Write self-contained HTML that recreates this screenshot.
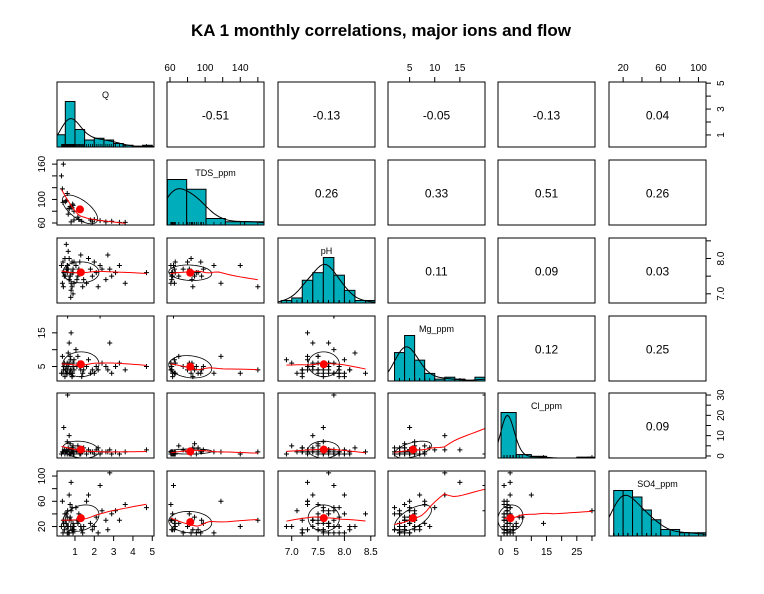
<!DOCTYPE html>
<html><head><meta charset="utf-8">
<style>
html,body{margin:0;padding:0;background:#fff;}
svg{display:block;font-family:"Liberation Sans",Arial,sans-serif;}
</style></head>
<body>
<svg id="chart" width="764" height="594" viewBox="0 0 764 594" xmlns="http://www.w3.org/2000/svg">
<rect width="764" height="594" fill="#fff"/>
<text x="381" y="36" text-anchor="middle" font-size="17" font-weight="bold">KA 1 monthly correlations, major ions and flow</text>
</svg>
<script>
// ---- data ----
const varNames = ["Q","TDS_ppm","pH","Mg_ppm","Cl_ppm","SO4_ppm"];
const corrValues = [[null,-0.51,-0.13,-0.05,-0.13,0.04],[null,null,0.26,0.33,0.51,0.26],[null,null,null,0.11,0.09,0.03],[null,null,null,null,0.12,0.25],[null,null,null,null,null,0.09]];
const qVals   = [0.4,0.3,0.45,0.35,0.48,0.42,0.38,0.6,0.7,0.8,0.9,0.65,0.75,0.85,0.95,0.55,0.6,0.7,0.8,0.9,0.55,0.65,0.75,0.85,0.95,0.6,0.7,0.8,0.9,0.5,0.62,0.78,0.88,1.1,1.2,1.3,1.15,1.4,1.25,1.35,1.05,1.45,1.2,1.6,1.8,1.7,1.9,2.1,2.3,2.2,2.4,2.0,2.6,2.8,2.7,2.9,3.1,3.3,3.6,4.7];
const tdsVals = [160,140,null,118,null,null,95,null,85,null,90,null,88,null,65,98,110,null,62,null,null,75,null,86,80,null,84,null,null,96,null,null,92,null,82,null,70,null,null,63,null,null,66,null,65,null,62,null,64,null,null,66,62,null,null,63,null,61,61,null];
const phVals  = [7.2,7.8,7.5,7.3,8.0,7.6,7.9,7.7,7.4,7.1,7.6,8.2,7.5,7.9,7.3,7.7,7.8,7.4,7.6,7.0,8.4,7.7,7.5,7.2,7.9,7.6,8.0,7.3,7.7,7.5,7.8,6.9,7.6,7.4,7.7,8.1,7.5,7.2,7.9,7.6,7.8,7.4,7.6,7.3,7.7,8.0,7.5,7.6,7.8,7.2,7.7,7.9,7.4,7.7,8.1,7.5,7.6,7.8,7.3,7.6];
const mgVals  = [4,3,6,8,2,5,3,4,6,3,5,9,4,2,7,5,3,12,4,6,3,5,8,2,4,6,3,15,5,4,20,7,3,5,6,4,8,3,5,2,10,4,6,5,3,7,4,5,20,4,6,3,5,12,4,3,5,6,4,5];
const clVals  = [2,1,3,2,1,14,2,1,3,2,1,4,6,2,1,3,2,10,1,5,2,3,1,4,2,7,1,3,2,2,30,1,4,2,3,1,5,2,1,2,3,4,2,1,2,3,2,3,1,4,2,1,2,3,2,1,2,1,2,3];
const so4Vals = [30,20,15,60,40,25,10,20,30,45,10,20,35,50,15,25,10,70,30,20,40,10,55,15,20,35,10,90,25,30,45,20,15,30,40,20,25,10,35,15,50,20,30,60,25,70,15,35,85,10,45,20,30,105,15,40,45,30,55,50];
const allVars = [qVals,tdsVals,phVals,mgVals,clVals,so4Vals];
const ranges = [[0.07,5.09],[56.6,167],[6.74,8.58],[0.7,20],[-1,31],[5,108]];
const histBreaks = [[0,0.5,1,1.5,2,2.5,3,3.5,4,4.5,5,5.5],[57,79,101,123,145,167],[6.8,7.0,7.2,7.4,7.6,7.8,8.0,8.2,8.4,8.6],[0,2,4,6,8,10,12,14,16,18,20],[0,5,10,15,20,25,30],[0,10,20,30,40,50,60,70,80,90,100,110]];
const tickVals = [[1,2,3,4,5],[60,80,100,120,140,160],[7.0,7.5,8.0,8.5],[5,10,15],[0,5,10,15,20,25,30],[20,40,60,80,100]];
const tickLabelsA = [["1","2","3","4","5"],["60","","100","","140",""],["7.0","7.5","8.0","8.5"],["5","10","15"],["0","5","","15","","25",""],["20","","60","","100"]];
const tickLabelsB = [["1","","3","","5"],["60","","100","","","160"],["7.0","","8.0",""],["5","","15"],["0","","10","","20","","30"],["20","","60","","100"]];

// ---- layout ----
const colX=[57,167,278,388,498,609], rowY=[82,160,238,316,393,471], PW=97, PH=65;
const svg=document.getElementById('chart'), NS="http://www.w3.org/2000/svg";
function mk(tag,attrs,parent){const e=document.createElementNS(NS,tag);for(const k in attrs)e.setAttribute(k,attrs[k]);(parent||svg).appendChild(e);return e;}
function sx(v,c){const r=ranges[c];return colX[c]+(v-r[0])/(r[1]-r[0])*PW;}
function sy(v,rw){const r=ranges[rw];return rowY[rw]+PH-(v-r[0])/(r[1]-r[0])*PH;}
function pairs(a,b){const o=[];for(let i=0;i<a.length;i++)if(a[i]!=null&&b[i]!=null)o.push([a[i],b[i]]);return o;}
function mean(a){return a.reduce((s,v)=>s+v,0)/a.length;}
function sd(a){const m=mean(a);return Math.sqrt(a.reduce((s,v)=>s+(v-m)*(v-m),0)/(a.length-1));}
function smooth(pts){
  const s=pts.slice().sort((p,q)=>p[0]-q[0]);const n=s.length,k=Math.max(3,Math.ceil(n*0.85));const out=[];
  const xs=s.map(p=>p[0]);const lo=xs[0],hi=xs[n-1];
  for(let j=0;j<=20;j++){const x0=lo+(hi-lo)*j/20;
    const d=s.map(p=>Math.abs(p[0]-x0)).sort((a,b)=>a-b);const h=Math.max(d[k-1]||0,(hi-lo)*0.3)+1e-9;
    let sw=0,swx=0,swy=0,swxx=0,swxy=0;
    s.forEach(p=>{const u=Math.abs(p[0]-x0)/(h*1.0001);if(u>=1)return;const w=Math.pow(1-u*u*u,3);sw+=w;swx+=w*p[0];swy+=w*p[1];swxx+=w*p[0]*p[0];swxy+=w*p[0]*p[1];});
    const den=sw*swxx-swx*swx;let y;
    if(Math.abs(den)<1e-9*sw*sw)y=swy/sw;else{const b=(sw*swxy-swx*swy)/den;const a=(swy-b*swx)/sw;y=a+b*x0;}
    out.push([x0,y]);}
  return out;}

for(let r=0;r<6;r++)for(let c=0;c<6;c++){
  const g=mk('g',{});
  
  
  const x0=colX[c],y0=rowY[r];
  if(r===c){
    const data=allVars[c].filter(v=>v!=null);const br=histBreaks[c];const n=data.length;
    const counts=br.slice(0,-1).map((b,i)=>data.filter(v=>v>=b&&(v<br[i+1]||(i===br.length-2&&v<=br[i+1]))).length);
    const dens=counts.map((ct,i)=>ct/(n*(br[i+1]-br[i])));
    const s=sd(data),bw=1.06*s*Math.pow(n,-0.2);
    const rg=ranges[c];const kde=[];
    for(let j=0;j<=60;j++){const x=rg[0]+(rg[1]-rg[0])*j/60;let d=0;data.forEach(v=>{const u=(x-v)/bw;d+=Math.exp(-u*u/2);});kde.push([x,d/(n*bw*Math.sqrt(2*Math.PI))]);}
    const mx=Math.max(Math.max(...dens),Math.max(...kde.map(p=>p[1])));
    const hy=v=>y0+PH-v/mx*PH*0.7;
    br.slice(0,-1).forEach((b,i)=>{if(!counts[i])return;
      const xa=Math.max(x0,sx(b,c)),xb=Math.min(x0+PW,sx(br[i+1],c));
      const bar=mk('rect',{x:xa,y:hy(dens[i]),width:Math.max(0,xb-xa),height:y0+PH-hy(dens[i]),fill:'#00adbb',stroke:'#000','stroke-width':1},g);
      
      });
    const pl=mk('polyline',{points:kde.map(p=>sx(p[0],c)+','+hy(p[1])).join(' '),fill:'none',stroke:'#000','stroke-width':1},g);
    
    
    data.forEach(v=>{const xx=sx(v,c);mk('line',{x1:xx,x2:xx,y1:y0+PH,y2:y0+PH-3,stroke:'#000','stroke-width':0.8},g);});
    const lb=mk('text',{x:x0+PW/2,y:y0+16,'text-anchor':'middle','font-size':9},g);lb.textContent=varNames[c];
    
    
  } else if(r<c){
    const t=mk('text',{x:x0+PW/2,y:y0+PH/2+5,'text-anchor':'middle','font-size':12},g);
    const v=corrValues[r][c];t.textContent=v.toFixed(2);
    
    
  } else {
    const pts=pairs(allVars[c],allVars[r]);
    const cl=mk('clipPath',{id:'cp'+r+c});mk('rect',{x:x0,y:y0,width:PW,height:PH},cl);
    const gg=mk('g',{'clip-path':'url(#cp'+r+c+')'},g);
    pts.forEach(p=>{const px=sx(p[0],c),py=sy(p[1],r);
      const m=mk('path',{d:`M${px-2.5},${py}h5M${px},${py-2.5}v5`,stroke:'#000','stroke-width':1},gg);
      
      });
    const xs=pts.map(p=>p[0]),ys=pts.map(p=>p[1]);const mxv=mean(xs),myv=mean(ys),sxv=sd(xs),syv=sd(ys);
    let rr=0;pts.forEach(p=>rr+=(p[0]-mxv)*(p[1]-myv));rr/=(pts.length-1)*sxv*syv;
    const dA=Math.acos(Math.max(-1,Math.min(1,rr)));const el=[];
    for(let j=0;j<=60;j++){const t=j/60*2*Math.PI;el.push(sx(mxv+sxv*Math.cos(t+dA/2),c)+','+sy(myv+syv*Math.cos(t-dA/2),r));}
    const e=mk('polyline',{points:el.join(' '),fill:'none',stroke:'#000','stroke-width':0.8},gg);
    
    
    const sm=smooth(pts);
    const l=mk('polyline',{points:sm.map(p=>sx(p[0],c)+','+sy(p[1],r)).join(' '),fill:'none',stroke:'#f00','stroke-width':1},gg);
    
    
    const d=mk('circle',{cx:sx(mxv,c),cy:sy(myv,r),r:4,fill:'#f00'},gg);
    
    
  }
  mk('rect',{x:x0,y:y0,width:PW,height:PH,fill:'none',stroke:'#000','stroke-width':1},g);
}
// ---- axes ----
function axis(side,i){
  const g=mk('g',{});
  
  
  const tv=tickVals[i],labs=(side==='top'||side==='bottom')?tickLabelsA[i]:tickLabelsB[i];
  tv.forEach((v,k)=>{
    if(side==='bottom'||side==='top'){const x=sx(v,i);const yb=side==='bottom'?rowY[5]+PH:rowY[0];const dir=side==='bottom'?1:-1;
      mk('line',{x1:x,x2:x,y1:yb,y2:yb+dir*5,stroke:'#000'},g);
      if(labs[k]){const t=mk('text',{x:x,y:side==='bottom'?yb+19:yb-11,'text-anchor':'middle','font-size':10},g);t.textContent=labs[k];}}
    else{const y=sy(v,i);const xb=side==='left'?colX[0]:colX[5]+PW;const dir=side==='left'?-1:1;
      mk('line',{x1:xb,x2:xb+dir*5,y1:y,y2:y,stroke:'#000'},g);
      if(labs[k]){const tx=side==='left'?xb-12:xb+18;const t=mk('text',{x:tx,y:y,'text-anchor':'middle','font-size':10,transform:`rotate(-90 ${tx} ${y})`},g);t.textContent=labs[k];}}
  });
}
axis('bottom',0);axis('bottom',2);axis('bottom',4);
axis('top',1);axis('top',3);axis('top',5);
axis('right',0);axis('right',2);axis('right',4);
axis('left',1);axis('left',3);axis('left',5);
</script>
</body></html>
